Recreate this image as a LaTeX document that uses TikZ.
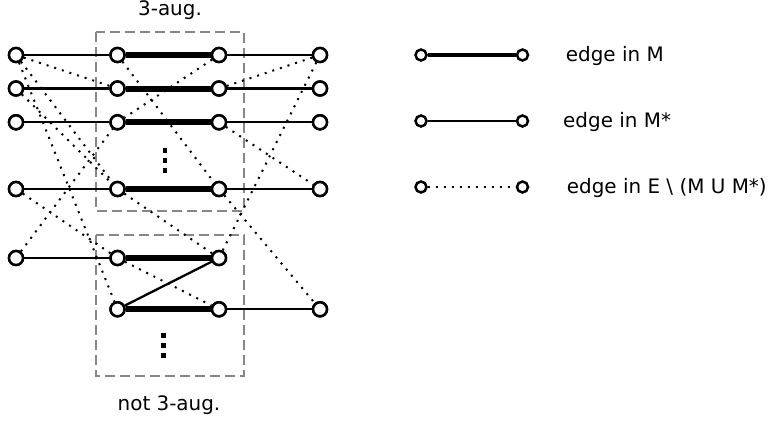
\documentclass[tikz,border=0pt]{standalone}
\usepackage{fontspec}
\setmainfont{DejaVu Sans}
\begin{document}
\begin{tikzpicture}[x=1bp,y=-1bp,
  vtx/.style={circle,draw=black,fill=white,line width=2.5bp,minimum size=14bp,inner sep=0pt},
  lvtx/.style={circle,draw=black,fill=white,line width=2.5bp,minimum size=11bp,inner sep=0pt},
  medge/.style={line width=6bp},
  sedge/.style={line width=2.3bp},
  dedge/.style={line width=2bp,dash pattern=on 2bp off 6bp},
  gbox/.style={draw=black!47,line width=2.2bp,dash pattern=on 10bp off 5bp},
  lbl/.style={font=\fontsize{20}{23}\selectfont,inner sep=0pt},
  ell/.style={fill=black,draw=none}
]
\useasboundingbox (0,0) rectangle (769,421);

% boxes
\draw[gbox] (95.7,32.3) rectangle (244,211);
\draw[gbox] (95.7,235) rectangle (244,375.7);

% nodes
\node[vtx] (A1) at (16,55) {};
\node[vtx] (B1) at (117.5,55) {};
\node[vtx] (C1) at (219,55) {};
\node[vtx] (D1) at (320,55) {};
\node[vtx] (A2) at (16,88.5) {};
\node[vtx] (B2) at (117.5,88.5) {};
\node[vtx] (C2) at (219,88.5) {};
\node[vtx] (D2) at (320,88.5) {};
\node[vtx] (A3) at (16,122.3) {};
\node[vtx] (B3) at (117.5,122.3) {};
\node[vtx] (C3) at (219,122.3) {};
\node[vtx] (D3) at (320,122.3) {};
\node[vtx] (A4) at (16,189) {};
\node[vtx] (B4) at (117.5,189) {};
\node[vtx] (C4) at (219,189) {};
\node[vtx] (D4) at (320,189) {};
\node[vtx] (A5) at (16,258) {};
\node[vtx] (B5) at (117.5,258) {};
\node[vtx] (C5) at (219,258) {};
\node[vtx] (B6) at (117.5,309.3) {};
\node[vtx] (C6) at (219,309.3) {};
\node[vtx] (D6) at (320,309.3) {};

% dotted edges
\draw[dedge] (A1) -- (B2);
\draw[dedge] (A1) -- (B4);
\draw[dedge] (A1) -- (B6);
\draw[dedge] (A2) -- (B4);
\draw[dedge] (A4) -- (B5);
\draw[dedge] (A5) -- (B3);
\draw[dedge] (B1) -- (C4);
\draw[dedge] (C1) -- (B3);
\draw[dedge] (B4) -- (C5);
\draw[dedge] (B5) -- (C6);
\draw[dedge] (D1) -- (C2);
\draw[dedge] (D1) -- (C5);
\draw[dedge] (C3) -- (D4);
\draw[dedge] (C4) -- (D6);

% M* edges
\foreach \i in {1,2,3,4,5} {\draw[sedge] (A\i) -- (B\i);}
\foreach \i in {1,2,3,4,6} {\draw[sedge] (C\i) -- (D\i);}
\draw[sedge] (B6) -- (C5);
% M edges
\foreach \i in {1,2,3,4,5,6} {\draw[medge] (B\i) -- (C\i);}

% redraw nodes on top
\foreach \n in {A1,B1,C1,D1,A2,B2,C2,D2,A3,B3,C3,D3,A4,B4,C4,D4,A5,B5,C5,B6,C6,D6}
  {\draw[line width=2.5bp,fill=white] (\n.center) circle (7bp);}

% vertical ellipses
\foreach \y in {150.5,160.5,170.5} {\fill[ell] (162.6,\y-2.5) rectangle (167.4,\y+2.5);}
\foreach \y in {335.5,345.5,355.5} {\fill[ell] (161.1,\y-2.5) rectangle (165.9,\y+2.5);}

% labels
\node[lbl,anchor=base] (t1) at (170,15) {3-aug.};
\node[lbl,anchor=base] (t2) at (169,410) {not 3-aug.};

% legend
\node[lvtx] (L1a) at (421,55) {};
\node[lvtx] (L1b) at (522.5,55) {};
\node[lvtx] (L2a) at (421,121) {};
\node[lvtx] (L2b) at (522.5,121) {};
\node[lvtx] (L3a) at (421,187) {};
\node[lvtx] (L3b) at (522.5,187) {};
\draw[medge,line width=4.8bp] (L1a) -- (L1b);
\draw[sedge] (L2a) -- (L2b);
\draw[dedge] (L3a) -- (L3b);
\node[lbl,anchor=base west] (g1) at (565.7,61.5) {edge in M};
\node[lbl,anchor=base west] (g2) at (563,127.5) {edge in M*};
\node[lbl,anchor=base west] (g3) at (566.7,193.5) {edge in E \textbackslash{} (M U M*)};
\end{tikzpicture}
\end{document}
